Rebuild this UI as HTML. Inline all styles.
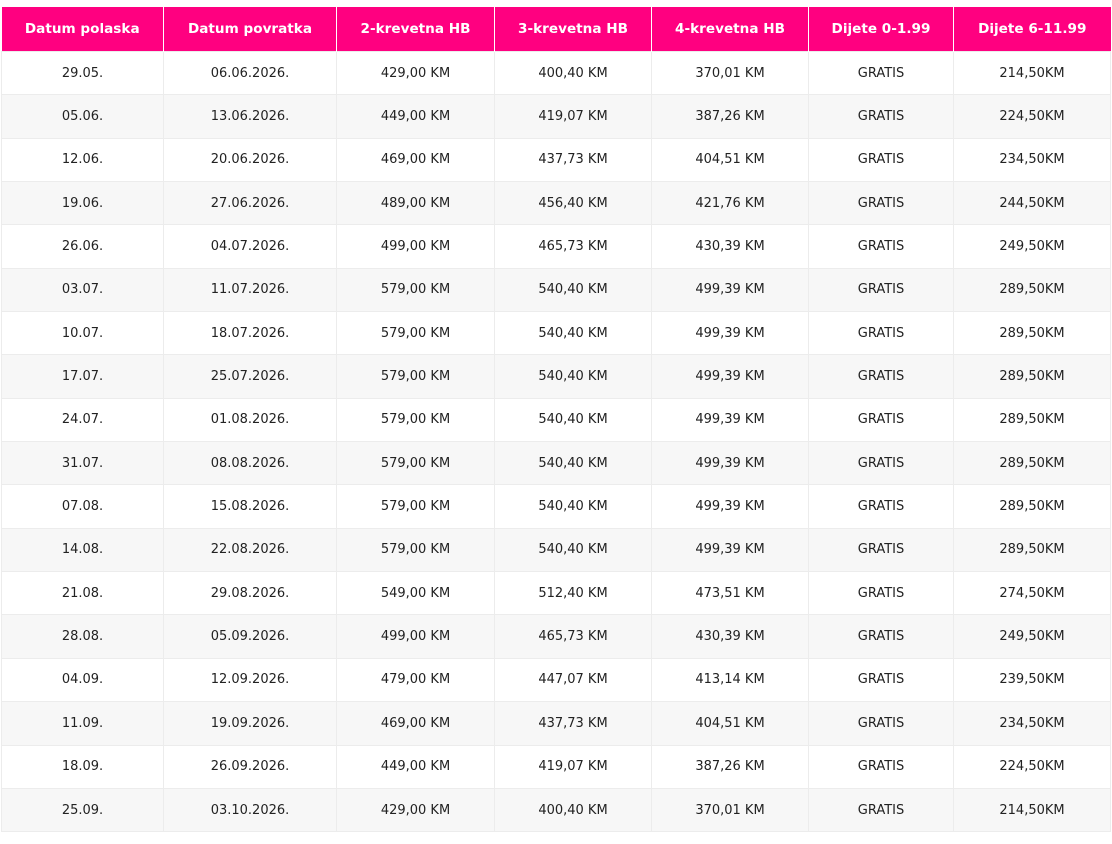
<!DOCTYPE html>
<html><head><meta charset="utf-8"><style>
body{margin:0;background:#fff;width:1112px;height:844px;overflow:hidden}
table{position:absolute;left:1px;top:7px;border-collapse:collapse;table-layout:fixed;width:1109px;font-family:"DejaVu Sans","Liberation Sans",sans-serif;font-size:13px}
th{background:#ff0080;color:#fff;font-weight:bold;font-size:13.6px;height:44px;padding:0;border-right:1px solid #fff;text-align:center}
th:last-child{border-right:none}
td{height:42.35px;padding:0;text-align:center;color:#222;border:1px solid #ececec}
tbody tr:nth-child(even) td{background:#f7f7f7}
</style></head><body>
<table>
<colgroup><col style="width:162px"><col style="width:173px"><col style="width:158px"><col style="width:157px"><col style="width:157px"><col style="width:145px"><col style="width:157px"></colgroup>
<thead><tr><th>Datum polaska</th><th>Datum povratka</th><th>2-krevetna HB</th><th>3-krevetna HB</th><th>4-krevetna HB</th><th>Dijete 0-1.99</th><th>Dijete 6-11.99</th></tr></thead>
<tbody>
<tr><td>29.05.</td><td>06.06.2026.</td><td>429,00 KM</td><td>400,40 KM</td><td>370,01 KM</td><td>GRATIS</td><td>214,50KM</td></tr>
<tr><td>05.06.</td><td>13.06.2026.</td><td>449,00 KM</td><td>419,07 KM</td><td>387,26 KM</td><td>GRATIS</td><td>224,50KM</td></tr>
<tr><td>12.06.</td><td>20.06.2026.</td><td>469,00 KM</td><td>437,73 KM</td><td>404,51 KM</td><td>GRATIS</td><td>234,50KM</td></tr>
<tr><td>19.06.</td><td>27.06.2026.</td><td>489,00 KM</td><td>456,40 KM</td><td>421,76 KM</td><td>GRATIS</td><td>244,50KM</td></tr>
<tr><td>26.06.</td><td>04.07.2026.</td><td>499,00 KM</td><td>465,73 KM</td><td>430,39 KM</td><td>GRATIS</td><td>249,50KM</td></tr>
<tr><td>03.07.</td><td>11.07.2026.</td><td>579,00 KM</td><td>540,40 KM</td><td>499,39 KM</td><td>GRATIS</td><td>289,50KM</td></tr>
<tr><td>10.07.</td><td>18.07.2026.</td><td>579,00 KM</td><td>540,40 KM</td><td>499,39 KM</td><td>GRATIS</td><td>289,50KM</td></tr>
<tr><td>17.07.</td><td>25.07.2026.</td><td>579,00 KM</td><td>540,40 KM</td><td>499,39 KM</td><td>GRATIS</td><td>289,50KM</td></tr>
<tr><td>24.07.</td><td>01.08.2026.</td><td>579,00 KM</td><td>540,40 KM</td><td>499,39 KM</td><td>GRATIS</td><td>289,50KM</td></tr>
<tr><td>31.07.</td><td>08.08.2026.</td><td>579,00 KM</td><td>540,40 KM</td><td>499,39 KM</td><td>GRATIS</td><td>289,50KM</td></tr>
<tr><td>07.08.</td><td>15.08.2026.</td><td>579,00 KM</td><td>540,40 KM</td><td>499,39 KM</td><td>GRATIS</td><td>289,50KM</td></tr>
<tr><td>14.08.</td><td>22.08.2026.</td><td>579,00 KM</td><td>540,40 KM</td><td>499,39 KM</td><td>GRATIS</td><td>289,50KM</td></tr>
<tr><td>21.08.</td><td>29.08.2026.</td><td>549,00 KM</td><td>512,40 KM</td><td>473,51 KM</td><td>GRATIS</td><td>274,50KM</td></tr>
<tr><td>28.08.</td><td>05.09.2026.</td><td>499,00 KM</td><td>465,73 KM</td><td>430,39 KM</td><td>GRATIS</td><td>249,50KM</td></tr>
<tr><td>04.09.</td><td>12.09.2026.</td><td>479,00 KM</td><td>447,07 KM</td><td>413,14 KM</td><td>GRATIS</td><td>239,50KM</td></tr>
<tr><td>11.09.</td><td>19.09.2026.</td><td>469,00 KM</td><td>437,73 KM</td><td>404,51 KM</td><td>GRATIS</td><td>234,50KM</td></tr>
<tr><td>18.09.</td><td>26.09.2026.</td><td>449,00 KM</td><td>419,07 KM</td><td>387,26 KM</td><td>GRATIS</td><td>224,50KM</td></tr>
<tr><td>25.09.</td><td>03.10.2026.</td><td>429,00 KM</td><td>400,40 KM</td><td>370,01 KM</td><td>GRATIS</td><td>214,50KM</td></tr>
</tbody></table>
</body></html>
